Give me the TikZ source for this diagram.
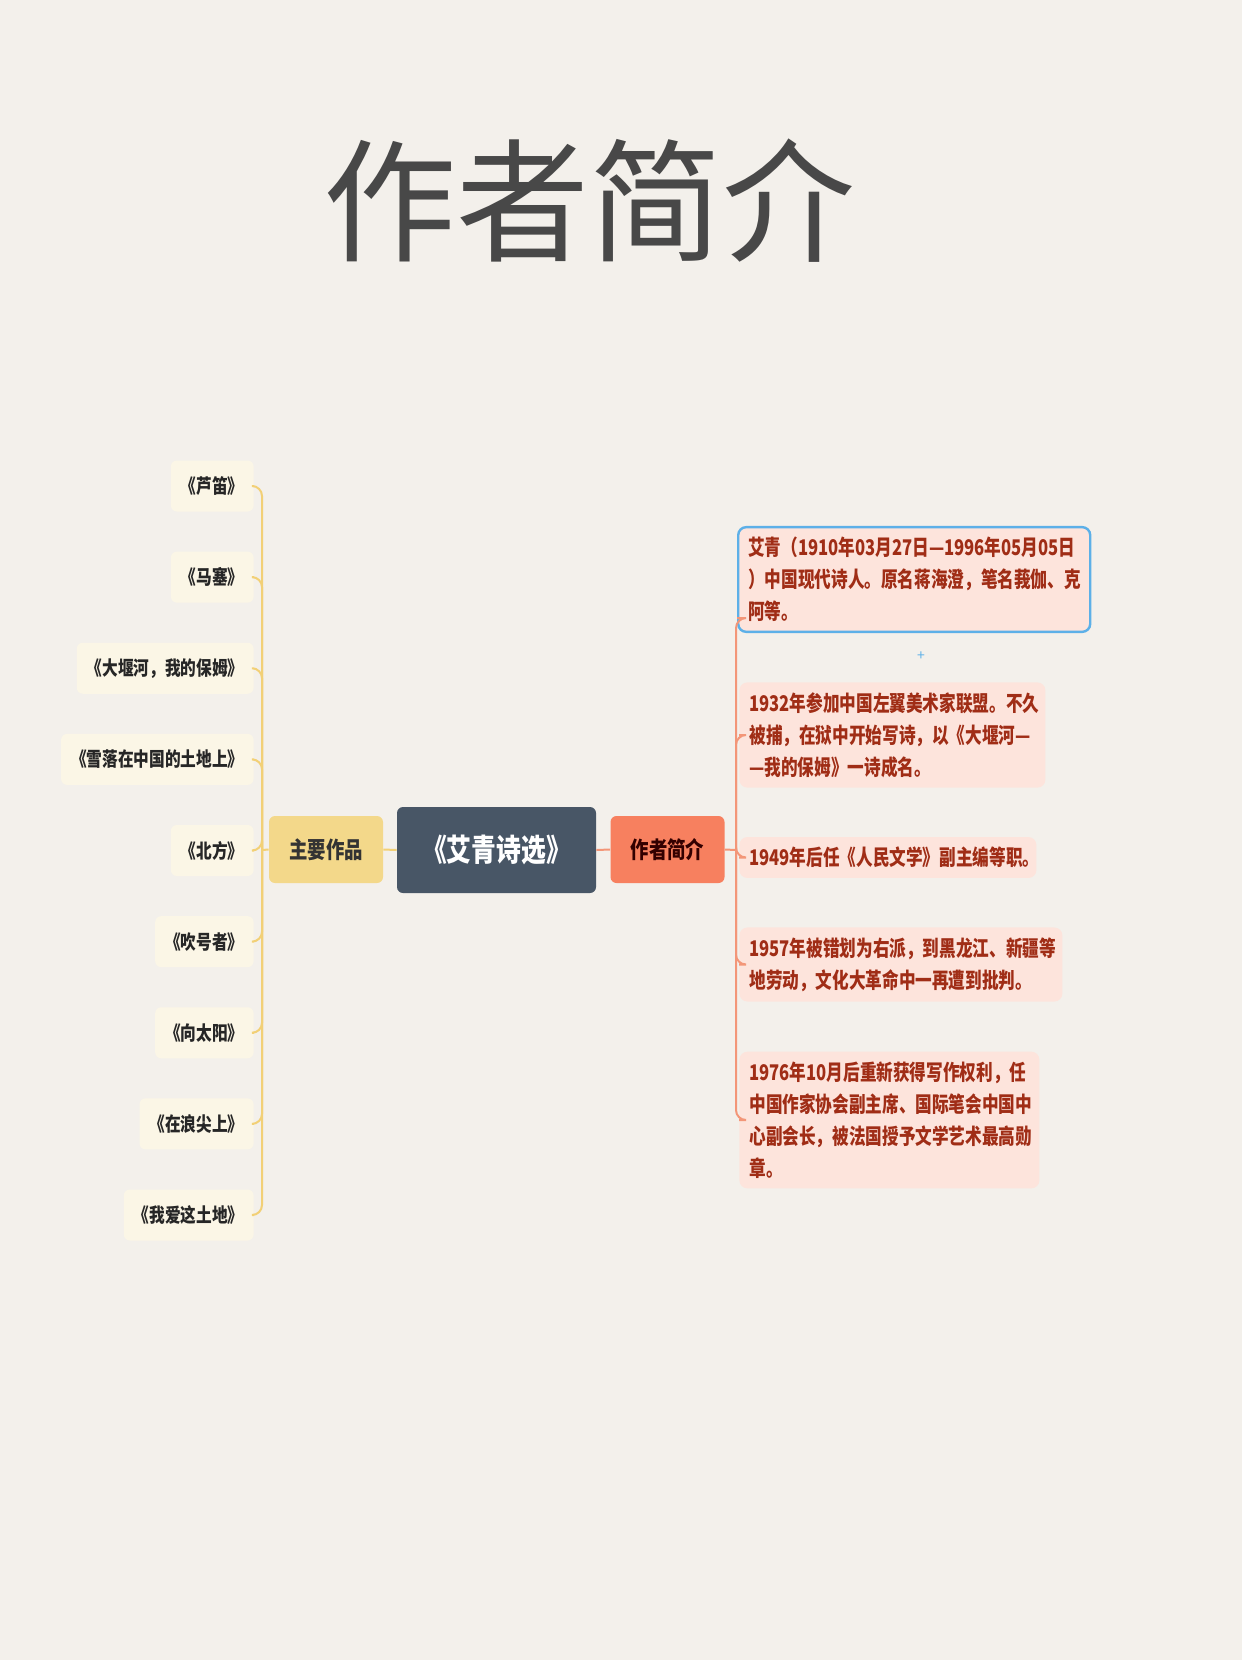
\documentclass[tikz,border=0pt]{standalone}
\usepackage{fontspec}
\newfontfamily\cjk{Noto Sans CJK SC}
\newfontfamily\cjkn[FakeStretch=0.8]{Noto Sans CJK SC}
\newfontfamily\cjknote[FakeStretch=0.77]{Noto Sans CJK SC}
\usetikzlibrary{positioning,calc}
\definecolor{paper}{RGB}{243,240,235}
\definecolor{rootfill}{RGB}{72,86,102}
\definecolor{workfill}{RGB}{243,216,138}
\definecolor{lifefill}{RGB}{247,128,95}
\definecolor{itemfill}{RGB}{251,246,230}
\definecolor{notefill}{RGB}{253,228,220}
\definecolor{notetext}{RGB}{160,45,22}
\definecolor{titlegray}{RGB}{72,72,72}
\definecolor{skyblue}{RGB}{92,176,232}
\definecolor{workline}{RGB}{242,208,118}
\definecolor{lifeline}{RGB}{243,150,120}
\tikzset{
  rootnode/.style={
    rectangle, rounded corners=3pt, fill=rootfill, text=white,
    minimum width=99.5pt, minimum height=43pt, inner sep=0pt,
    font=\cjkn\bfseries\fontsize{15.5}{17}\selectfont
  },
  branchnode/.style={
    rectangle, rounded corners=3pt, minimum width=57pt,
    minimum height=33.5pt, inner sep=0pt,
    font=\cjkn\bfseries\fontsize{11.5}{13}\selectfont
  },
  worknode/.style={
    rectangle, rounded corners=3pt, fill=itemfill, text=black!85,
    minimum height=25.5pt, inner xsep=5pt, inner ysep=0pt,
    font=\cjkn\bfseries\fontsize{9.8}{11}\selectfont
  },
  notenode/.style={
    rectangle, rounded corners=4pt, fill=notefill, text=notetext,
    align=left, inner xsep=5pt, inner ysep=5pt,
    font=\cjknote\bfseries\fontsize{10.8}{16}\selectfont
  },
  workedge/.style={line width=1pt, workline},
  lifeedge/.style={line width=1pt, lifeline},
}
\begin{document}
\begin{tikzpicture}[x=0.5pt, y=-0.5pt]

  % ── Paper ──
  \fill[paper] (0,0) rectangle (1242,1660);
  \useasboundingbox (0,0) rectangle (1242,1660);

  % ── Title ──
  \node[font=\cjk\fontsize{66.5}{70}\selectfont, text=titlegray] (title) at (589,201) {作者简介};

  % ── Root and first branches ──
  \node[rootnode] (root) at (496.5,850) {《艾青诗选》};
  \node[branchnode, fill=workfill, text=black!80] (works) at (326,849.5) {主要作品};
  \node[branchnode, fill=lifefill, text=black!80!red] (life) at (667.5,849.5) {作者简介};

  \draw[workedge] (root.west) -- (works.east);
  \draw[lifeedge] (root.east) -- (life.west);

  % ── Works (left) ──
  \coordinate (ltrunk) at (262,850);
  \draw[workedge] (works.west) -- (ltrunk);
  \foreach \t [count=\i] in {《芦笛》,《马塞》,《大堰河，我的保姆》,《雪落在中国的土地上》,%
      《北方》,《吹号者》,《向太阳》,《在浪尖上》,《我爱这土地》} {
    \node[worknode, anchor=east] (w\i) at (254,{486+91.125*(\i-1)}) {\t};
    \draw[workedge, rounded corners=5pt] (ltrunk) |- (w\i.east);
  }

  % ── Life notes (right) ──
  \node[notenode, text width=166pt, draw=skyblue, line width=1.2pt, anchor=west] (b1) at (737,579.5)
    {艾青（1910年03月27日—1996年05月05日\\）中国现代诗人。原名蒋海澄，笔名莪伽、克\\阿等。};
  \node[notenode, text width=143pt, anchor=west] (b2) at (739,735)
    {1932年参加中国左翼美术家联盟。不久\\被捕，在狱中开始写诗，以《大堰河—\\—我的保姆》一诗成名。};
  \node[notenode, text width=138.5pt, anchor=west] (b3) at (739,857.5)
    {1949年后任《人民文学》副主编等职。};
  \node[notenode, text width=151.5pt, anchor=west] (b4) at (739,964.5)
    {1957年被错划为右派，到黑龙江、新疆等\\地劳动，文化大革命中一再遭到批判。};
  \node[notenode, text width=140pt, anchor=west] (b5) at (739,1120)
    {1976年10月后重新获得写作权利，任\\中国作家协会副主席、国际笔会中国中\\心副会长，被法国授予文学艺术最高勋\\章。};

  \node[font=\cjk\fontsize{7}{7}\selectfont, text=skyblue] (plus) at (921,656) {+};

  \coordinate (rtrunk) at (736,850);
  \draw[lifeedge] (life.east) -- (rtrunk);
  \foreach \b in {b2,b3,b4,b5} {
    \draw[lifeedge, rounded corners=5pt] (rtrunk) |- (\b.west);
  }
  \draw[lifeedge, rounded corners=5pt] (rtrunk) |- ($(b1.south west)+(0,-15)$);

\end{tikzpicture}
\end{document}
